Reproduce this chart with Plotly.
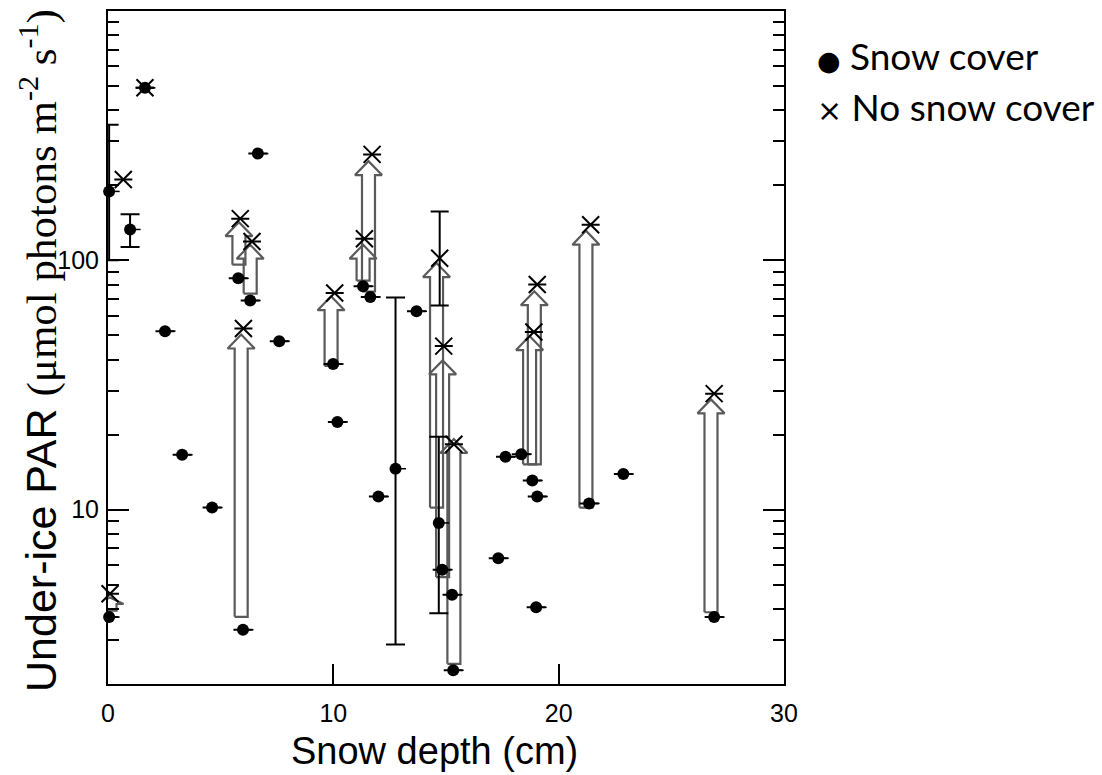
import math
import plotly.graph_objects as go

# ---------------- data ----------------
# Snow cover (filled circles)
snow_x = [0.05, 0.98, 1.64, 6.65, 2.53, 3.29, 4.62, 5.78, 6.31, 5.99, 7.60, 9.99, 10.18,
          11.32, 11.64, 12.00, 12.76, 13.69, 14.68, 14.83, 15.27, 15.32, 17.32, 17.64,
          18.34, 18.83, 19.05, 19.00, 21.35, 22.87, 26.90, 0.05]
snow_y = [189, 133, 492, 268, 52, 16.6, 10.2, 84.7, 69, 3.3, 47.4, 38.4, 22.5,
          78.7, 71.3, 11.3, 14.6, 62.5, 8.85, 5.75, 4.56, 2.27, 6.39, 16.3,
          16.7, 13.1, 11.3, 4.06, 10.6, 13.9, 3.71, 3.71]
# error range (low, high) for the points that carry error bars
snow_err_lo = {0: 100, 1: 113, 16: 2.88, 18: 3.84}
snow_err_hi = {0: 350, 1: 153, 16: 71, 18: 19.6}

# No snow cover (crosses)
ns_x = [0.09, 0.68, 1.64, 5.87, 6.39, 6.01, 10.06, 11.72, 11.38, 14.72, 14.90, 15.35,
        19.05, 18.90, 21.42, 26.90]
ns_y = [4.6, 211, 492, 147, 119, 53.3, 74, 266, 122, 102, 45.3, 18.3,
        80, 51.6, 139, 29.2]
ns_err_lo = {9: 65.9}
ns_err_hi = {9: 157}

# Block arrows: x position, start value, tip value
arrow_x = [0.09, 5.81, 6.31, 5.91, 9.90, 11.56, 11.32, 14.58, 14.85, 15.35, 18.92, 18.71, 21.21, 26.76]
arrow_from = [3.94, 96.1, 73.6, 3.72, 37.7, 75.0, 82.9, 10.2, 5.37, 2.41, 15.2, 15.2, 10.2, 3.88]
arrow_to = [4.45, 142.3, 115.5, 50.4, 71.8, 250, 115.5, 97.5, 39.7, 19.2, 75.2, 49.7, 131.5, 27.7]

x_ticks = [0, 10, 20, 30]
y_ticks = [10, 100]
y_minor = [m * 10 ** e for e in range(0, 3) for m in range(2, 10)]

# ---------------- geometry helpers ----------------
W, H = 1102, 775
ML, MR, MT, MB = 108, 318, 9, 91
plot_w = W - ML - MR
plot_h = H - MT - MB
X_RANGE = [0, 30]
Y_RANGE = [math.log10(2), 3]
px_per_cm = plot_w / (X_RANGE[1] - X_RANGE[0])
px_per_dec = plot_h / (Y_RANGE[1] - Y_RANGE[0])

body_half = 6.5 / px_per_cm
head_half = 13.5 / px_per_cm
head_len = 14 / px_per_dec

ax_pts, ay_pts = [], []
for xc, y0, y1 in zip(arrow_x, arrow_from, arrow_to):
    l0, l1 = math.log10(y0), math.log10(y1)
    hl = min(head_len, 0.5 * (l1 - l0))
    sh = l1 - hl
    xs = [xc - body_half, xc - body_half, xc - head_half, xc, xc + head_half,
          xc + body_half, xc + body_half, xc - body_half]
    ls = [l0, sh, sh, l1, sh, sh, l0, l0]
    ax_pts += xs + [None]
    ay_pts += [10 ** v for v in ls] + [None]


def err_arrays(yvals, lo, hi):
    plus, minus = [], []
    for i, v in enumerate(yvals):
        if i in lo:
            plus.append(hi[i] - v)
            minus.append(v - lo[i])
        else:
            plus.append(0)
            minus.append(0)
    return plus, minus


sp, sm = err_arrays(snow_y, snow_err_lo, snow_err_hi)
np_, nm = err_arrays(ns_y, ns_err_lo, ns_err_hi)

fig = go.Figure()

# arrows
fig.add_trace(go.Scatter(x=ax_pts, y=ay_pts, mode="lines",
                         line=dict(color="rgb(90,90,90)", width=2.2),
                         hoverinfo="skip", showlegend=False))

# snow cover error bars (vertical) + small right dash
fig.add_trace(go.Scatter(
    x=snow_x, y=snow_y, mode="markers",
    marker=dict(size=12, color="black"),
    error_y=dict(type="data", array=sp, arrayminus=sm, symmetric=False,
                 color="black", thickness=2, width=9.5),
    error_x=dict(type="constant", value=10.5 / px_per_cm, valueminus=0, symmetric=False,
                 color="black", thickness=1.5, width=0),
    cliponaxis=False, showlegend=False, name="Snow cover"))

# no snow cover
fig.add_trace(go.Scatter(
    x=ns_x, y=ns_y, mode="markers",
    marker=dict(symbol="x-thin", size=17, line=dict(color="black", width=2)),
    error_y=dict(type="data", array=np_, arrayminus=nm, symmetric=False,
                 color="black", thickness=2, width=9),
    cliponaxis=False, showlegend=False, name="No snow cover"))

tick_font = dict(family="Liberation Sans Narrow, Arial Narrow, Liberation Sans, sans-serif",
                 size=25, color="black")

fig.update_xaxes(range=X_RANGE, showline=True, linewidth=2, linecolor="black", mirror=True,
                 ticks="inside", ticklen=20, tickwidth=1.5, tickcolor="black",
                 tickvals=x_ticks, ticktext=[str(v) for v in x_ticks],
                 tickfont=tick_font, ticklabelstandoff=6,
                 showgrid=False, zeroline=False)
fig.update_yaxes(type="log", range=Y_RANGE, showline=True, linewidth=2, linecolor="black",
                 mirror="ticks", ticks="inside", ticklen=21, tickwidth=1.5, tickcolor="black",
                 tickvals=y_ticks, ticktext=[str(v) for v in y_ticks],
                 tickfont=tick_font, ticklabelstandoff=2, showgrid=False, zeroline=False,
                 minor=dict(tickmode="array", tickvals=y_minor, ticks="inside", ticklen=11,
                            tickwidth=1.5, tickcolor="black", showgrid=False))

def px_to_paper_x(px):
    return (px - ML) / plot_w

def px_to_paper_y(py):
    return (H - MB - py) / plot_h

annotations = [
    dict(text="Snow depth (cm)", x=px_to_paper_x(434), y=px_to_paper_y(751),
         xref="paper", yref="paper", xanchor="center", yanchor="middle", showarrow=False,
         font=dict(family="Liberation Sans, Arial, sans-serif", size=38, color="black")),
    dict(text='Under-ice PAR <span style="font-family:Liberation Serif, Times New Roman, serif">(μmol photons m<sup>-2</sup> s<sup>-1</sup>)</span>',
         x=px_to_paper_x(39), y=px_to_paper_y(350), textangle=-90,
         xref="paper", yref="paper", xanchor="center", yanchor="middle", showarrow=False,
         font=dict(family="Liberation Sans, Arial, sans-serif", size=43, color="black")),
    dict(text='<span style="font-family:DejaVu Sans;font-size:27px">●</span> Snow cover',
         x=px_to_paper_x(815), y=px_to_paper_y(54),
         xref="paper", yref="paper", xanchor="left", yanchor="middle", showarrow=False,
         font=dict(family="Lato, sans-serif", size=37, color="black")),
    dict(text='<span style="font-family:DejaVu Sans;font-size:30px">×</span> No snow cover',
         x=px_to_paper_x(815), y=px_to_paper_y(105),
         xref="paper", yref="paper", xanchor="left", yanchor="middle", showarrow=False,
         font=dict(family="Lato, sans-serif", size=37, color="black")),
]

fig.update_layout(width=W, height=H, margin=dict(l=ML, r=MR, t=MT, b=MB),
                  paper_bgcolor="white", plot_bgcolor="white",
                  showlegend=False, annotations=annotations)

fig.write_html("out.html")
